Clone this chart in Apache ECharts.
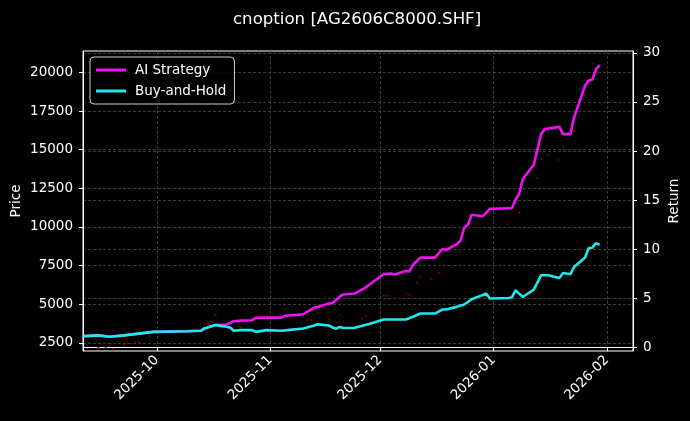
<!DOCTYPE html>
<html>
<head>
<meta charset="utf-8">
<script src="https://cdn.jsdelivr.net/npm/echarts@6/dist/echarts.min.js"></script>
<style>
html,body{margin:0;padding:0;background:#000;}
#chart{width:690px;height:421px;}
</style>
</head>
<body>
<div id="chart"></div>
<script>
const lineDates = [
 '2025-09-11','2025-09-15','2025-09-18','2025-09-22','2025-09-26','2025-09-30','2025-10-09','2025-10-13',
 '2025-10-14','2025-10-17','2025-10-20','2025-10-21','2025-10-22','2025-10-24','2025-10-27','2025-10-28',
 '2025-10-31','2025-11-04','2025-11-05','2025-11-10','2025-11-11','2025-11-13','2025-11-14','2025-11-17',
 '2025-11-18','2025-11-19','2025-11-20','2025-11-21','2025-11-24','2025-11-27','2025-11-28','2025-12-02',
 '2025-12-04','2025-12-05','2025-12-08','2025-12-09','2025-12-10','2025-12-12','2025-12-16','2025-12-18',
 '2025-12-19','2025-12-22','2025-12-23','2025-12-24','2025-12-25','2025-12-26','2025-12-29','2025-12-30',
 '2025-12-31','2026-01-05','2026-01-06','2026-01-07','2026-01-08','2026-01-09','2026-01-12','2026-01-14',
 '2026-01-15','2026-01-16','2026-01-19','2026-01-20','2026-01-22','2026-01-23','2026-01-26','2026-01-27',
 '2026-01-28','2026-01-29','2026-01-30'
];
const aiReturn = [
 1.12,1.19,1.05,1.19,1.37,1.55,1.62,1.66,
 1.90,2.24,2.31,2.45,2.64,2.70,2.74,2.98,
 3.02,3.00,3.18,3.35,3.60,4.03,4.10,4.44,
 4.50,4.80,5.18,5.36,5.46,6.05,6.35,7.45,
 7.50,7.40,7.75,7.72,8.40,9.12,9.12,10.00,
 9.90,10.50,10.87,12.20,12.47,13.49,13.34,13.70,
 14.10,14.16,14.16,15.00,15.62,17.14,18.60,21.72,
 22.23,22.30,22.46,21.72,21.72,23.40,26.63,27.20,
 27.30,28.32,28.76
];
const bhReturn = [
 1.12,1.19,1.05,1.19,1.37,1.55,1.62,1.66,
 1.90,2.24,2.07,2.00,1.66,1.73,1.73,1.55,
 1.73,1.66,1.70,1.90,2.00,2.20,2.32,2.20,
 2.00,1.88,2.06,1.95,1.96,2.25,2.35,2.82,
 2.82,2.82,2.82,2.95,3.10,3.42,3.42,3.83,
 3.83,4.10,4.25,4.34,4.60,4.88,5.30,5.46,
 4.95,5.01,5.05,5.79,5.45,5.11,5.86,7.32,
 7.32,7.32,7.04,7.55,7.42,8.16,9.12,10.09,
 10.13,10.60,10.44
];
const priceDates = [
 '2025-09-12','2025-09-15','2025-09-17','2025-09-19','2025-09-22','2025-09-23','2025-09-25','2025-09-26',
 '2025-09-29','2025-10-14','2025-10-15','2025-10-16','2025-10-17','2025-10-24','2025-11-11','2025-11-12',
 '2025-11-14','2025-11-17','2025-11-19','2025-11-20','2025-11-21','2025-11-26','2025-11-27','2025-12-02',
 '2025-12-03','2025-12-05','2025-12-08','2025-12-09','2025-12-11','2025-12-12','2025-12-15','2025-12-17',
 '2025-12-23','2025-12-24','2025-12-31','2026-01-05','2026-01-08','2026-01-13','2026-01-14','2026-01-16',
 '2026-01-19','2026-01-20','2026-01-23','2026-01-26','2026-01-28'
];
const priceValues = [
 2090,2195,2195,2090,2370,2480,2545,2585,
 2910,3730,3780,3880,4320,3520,3990,3990,
 4470,4080,3820,4280,3880,4100,4250,5550,
 5550,5400,5680,5620,6380,6770,6660,7030,
 8350,9030,9880,10210,10920,13150,14380,14640,
 14320,15210,16220,18490,20550
];
const priceTicks = [2500,5000,7500,10000,12500,15000,17500,20000];
const returnTicks = [0,5,10,15,20,25,30];
const monthTicks = ['2025-10-01','2025-11-01','2025-12-01','2026-01-01','2026-02-01'];
const seriesNames = ['AI Strategy','Buy-and-Hold'];
const titleText = 'cnoption [AG2606C8000.SHF]';

function ts(s){ const p = s.split('-').map(Number); return Date.UTC(p[0], p[1]-1, p[2]); }
const monthTickTs = monthTicks.map(ts);
const FONT = 'DejaVu Sans';
const gridLine = {show:true, lineStyle:{color:'#4a4a4a', type:[3,2], width:0.8}};

const chart = echarts.init(document.getElementById('chart'), null, {renderer:'canvas'});
const option = {
  backgroundColor:'#000',
  animation:false,
  title:{text:titleText, left:228, top:6,
    textStyle:{color:'#fff', fontSize:16.6, fontWeight:'normal', fontFamily:FONT}},
  grid:{left:83, right:57, top:51, bottom:70, show:true, borderColor:'#fff', borderWidth:1,
    outerBoundsMode:'none', containLabel:false},
  legend:{
    data:seriesNames, orient:'vertical', left:90, top:57,
    icon:'rect', itemWidth:30, itemHeight:3, itemGap:7,
    padding:[6,8,6,6],
    borderColor:'#cccccc', borderWidth:1, borderRadius:4, backgroundColor:'rgba(0,0,0,0.8)',
    textStyle:{color:'#fff', fontSize:13.5, fontFamily:FONT, padding:[0,0,0,4]}
  },
  xAxis:{
    type:'value', min:ts('2025-09-10')+19*3600e3, max:ts('2026-02-08')+3*3600e3,
    axisLine:{show:true, lineStyle:{color:'#fff'}},
    axisTick:{show:true, length:4, lineStyle:{color:'#fff'}, customValues:monthTickTs},
    axisLabel:{customValues:monthTickTs, rotate:45, color:'#fff', fontSize:13.5, fontFamily:FONT, margin:7,
      formatter:function(v){ const d=new Date(v); return d.getUTCFullYear()+'-'+String(d.getUTCMonth()+1).padStart(2,'0'); }},
    splitLine:Object.assign({customValues:monthTickTs}, gridLine)
  },
  yAxis:[
    {type:'value', position:'left', min:1980, max:21380,
     name:'Price', nameLocation:'middle', nameRotate:90, nameGap:60, nameMoveOverlap:false,
     nameTextStyle:{color:'#fff', fontSize:13.5, fontFamily:FONT},
     axisLine:{show:true, lineStyle:{color:'#fff'}},
     axisTick:{show:true, length:4, lineStyle:{color:'#fff'}, customValues:priceTicks},
     axisLabel:{customValues:priceTicks, color:'#fff', fontSize:13.5, fontFamily:FONT, margin:10,
       formatter:function(v){ return String(v); }},
     splitLine:Object.assign({customValues:priceTicks}, gridLine)},
    {type:'value', position:'right', min:-0.4, max:30.2,
     name:'Return', nameLocation:'middle', nameRotate:90, nameGap:34, nameMoveOverlap:false,
     nameTextStyle:{color:'#fff', fontSize:13.5, fontFamily:FONT},
     axisLine:{show:true, lineStyle:{color:'#fff'}},
     axisTick:{show:true, length:4, lineStyle:{color:'#fff'}, customValues:returnTicks},
     axisLabel:{customValues:returnTicks, color:'#fff', fontSize:13.5, fontFamily:FONT, margin:10,
       formatter:function(v){ return String(v); }},
     splitLine:Object.assign({customValues:returnTicks}, gridLine)}
  ],
  series:[
    {name:'Price', type:'scatter', yAxisIndex:0, symbol:'rect', symbolSize:2,
     itemStyle:{color:'#8b0000', opacity:0.8}, z:1,
     data:priceDates.map((d,i)=>[ts(d), priceValues[i]])},
    {name:seriesNames[0], type:'line', yAxisIndex:1, showSymbol:false, symbol:'none', z:3,
     lineStyle:{color:'#f010f0', width:2.6}, itemStyle:{color:'#f010f0'},
     data:lineDates.map((d,i)=>[ts(d), aiReturn[i]])},
    {name:seriesNames[1], type:'line', yAxisIndex:1, showSymbol:false, symbol:'none', z:4,
     lineStyle:{color:'#1ee8ee', width:2.6}, itemStyle:{color:'#1ee8ee'},
     data:lineDates.map((d,i)=>[ts(d), bhReturn[i]])}
  ]
};
chart.setOption(option);
</script>
</body>
</html>
